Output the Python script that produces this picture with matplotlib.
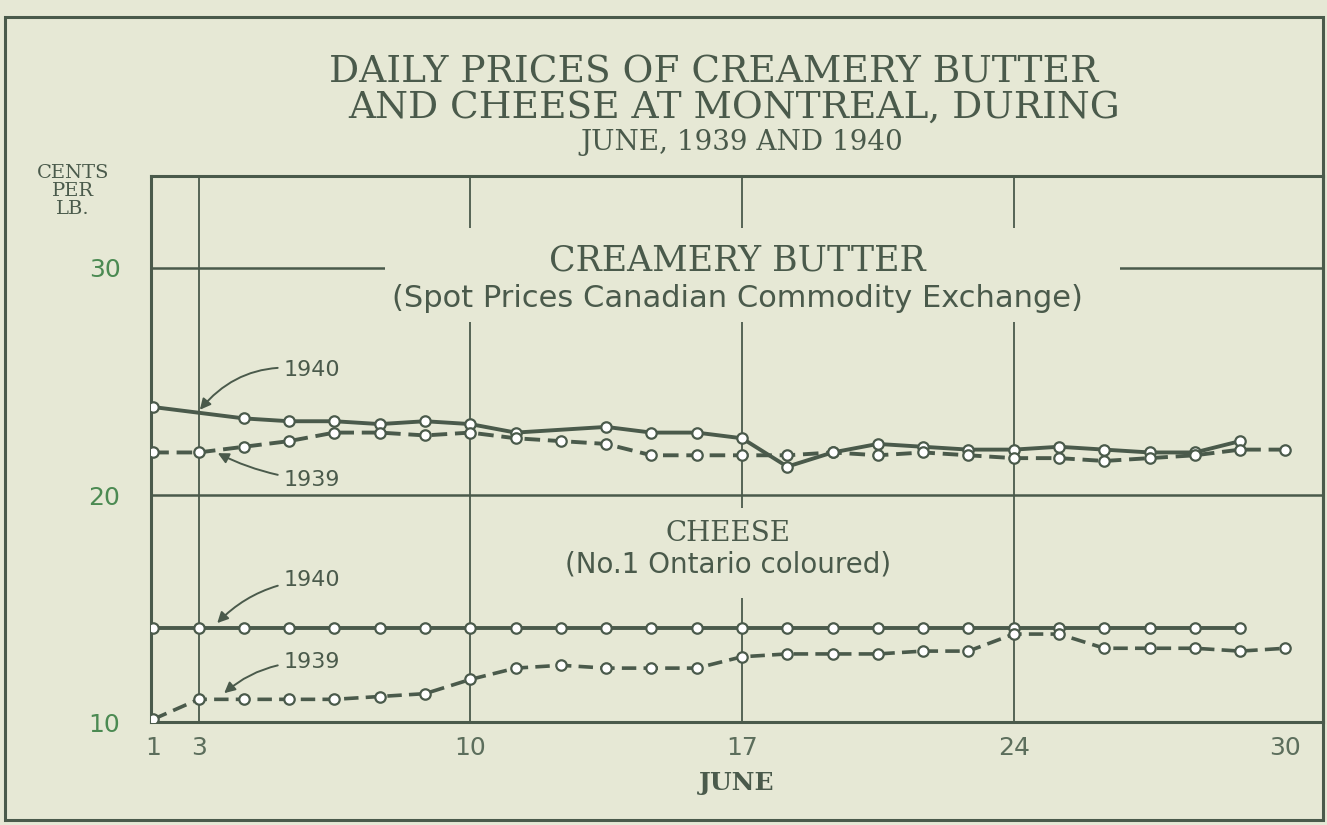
import matplotlib.pyplot as plt
import numpy as np
from matplotlib.patches import Rectangle

# trading days of June shown along the x axis (Sundays skipped)
days = [1, 3, 4, 5, 6, 7, 8, 10, 11, 12, 13, 14, 15, 17, 18, 19, 20, 21, 22,
        24, 25, 26, 27, 28, 29, 30]
tick_days = [1, 3, 10, 17, 24, 30]
grid_days = [3, 10, 17, 24]

# creamery butter, cents per lb.
butter_1940_days = [1, 4, 5, 6, 7, 8, 10, 11, 13, 14, 15, 17, 18, 19, 20, 21,
                    22, 24, 25, 26, 27, 28, 29]
butter_1940 = [23.875, 23.375, 23.25, 23.25, 23.125, 23.25, 23.125, 22.75,
               23.0, 22.75, 22.75, 22.5, 21.25, 21.875, 22.25, 22.125, 22.0,
               22.0, 22.125, 22.0, 21.875, 21.875, 22.375]
butter_1939_days = days
butter_1939 = [21.875, 21.875, 22.125, 22.375, 22.75, 22.75, 22.625, 22.75,
               22.5, 22.375, 22.25, 21.75, 21.75, 21.75, 21.75, 21.875, 21.75,
               21.875, 21.75, 21.625, 21.625, 21.5, 21.625, 21.75, 22.0, 22.0]

# cheese, No.1 Ontario coloured
cheese_1940_days = days[:-1]
cheese_1940 = [14.125] * 25
cheese_1939_days = days
cheese_1939 = [10.125, 11.0, 11.0, 11.0, 11.0, 11.125, 11.25, 11.875, 12.375,
               12.5, 12.375, 12.375, 12.375, 12.875, 13.0, 13.0, 13.0, 13.125,
               13.125, 13.875, 13.875, 13.25, 13.25, 13.25, 13.125, 13.25]


def pos(ds):
    return [days.index(d) for d in ds]


paper = '#e6e8d5'
ink = '#4a5a4b'
green = '#4b8a52'

fig = plt.figure(figsize=(13.27, 8.25), dpi=100, facecolor=paper)
ax = fig.add_axes([0.1138, 0.1248, 0.8832, 0.6618], facecolor=paper)
ax.set_xlim(-0.05, 25.83)
ax.set_ylim(10, 34.05)

# outer frame
fig.patches.append(Rectangle((0.004, 0.006), 0.993, 0.973, transform=fig.transFigure,
                             fill=False, edgecolor=ink, lw=2.2))

for y in [20, 30]:
    ax.axhline(y, color=ink, lw=1.8, zorder=1)
for d in grid_days:
    ax.axvline(days.index(d), color=ink, lw=1.3, zorder=1)

# paper masks where the section labels interrupt the grid
ax.add_patch(Rectangle((0.2, 0.733), 0.627, 0.172, transform=ax.transAxes,
                       facecolor=paper, edgecolor='none', zorder=2))
ax.add_patch(Rectangle((0.353, 0.227), 0.277, 0.165, transform=ax.transAxes,
                       facecolor=paper, edgecolor='none', zorder=2))

mk = dict(marker='o', ms=7.5, mfc='white', mec=ink, mew=1.6, color=ink, zorder=4)
ax.plot(pos(butter_1940_days), butter_1940, lw=2.8, **mk)
ax.plot(pos(butter_1939_days), butter_1939, lw=2.8, ls=(0, (4, 2)), **mk)
ax.plot(pos(cheese_1940_days), cheese_1940, lw=2.8, **mk)
ax.plot(pos(cheese_1939_days), cheese_1939, lw=2.6, ls=(0, (4, 2)), **mk)

lab = dict(fontsize=16, color=ink, family=['DejaVu Sans'], va='center', ha='left',
           zorder=5)
arr = dict(arrowstyle='-|>', color=ink, lw=1.4, mutation_scale=16)
ax.annotate('1940', xy=(0.99, 23.66), xytext=(2.87, 25.5),
            arrowprops=dict(connectionstyle='arc3,rad=0.3', **arr), **lab)
ax.annotate('1939', xy=(1.37, 21.9), xytext=(2.87, 20.66),
            arrowprops=dict(connectionstyle='arc3,rad=-0.1', **arr), **lab)
ax.annotate('1940', xy=(1.37, 14.27), xytext=(2.87, 16.26),
            arrowprops=dict(connectionstyle='arc3,rad=0.2', **arr), **lab)
ax.annotate('1939', xy=(1.52, 11.19), xytext=(2.87, 12.64),
            arrowprops=dict(connectionstyle='arc3,rad=0.2', **arr), **lab)

serif = ['DejaVu Serif']
hand = ['Liberation Sans Narrow', 'DejaVu Sans']
ax.text(0.5, 0.845, 'CREAMERY BUTTER', transform=ax.transAxes, ha='center',
        va='center', fontsize=25, family=serif, color=ink, zorder=3)
ax.text(0.5, 0.775, '(Spot Prices Canadian Commodity Exchange)', transform=ax.transAxes,
        ha='center', va='center', fontsize=22, family=hand, color=ink, zorder=3)
ax.text(0.492, 0.346, 'CHEESE', transform=ax.transAxes, ha='center', va='center',
        fontsize=20, family=serif, color=ink, zorder=3)
ax.text(0.492, 0.288, '(No.1 Ontario coloured)', transform=ax.transAxes, ha='center',
        va='center', fontsize=20, family=hand, color=ink, zorder=3)

ax.set_xticks(pos(tick_days))
ax.set_xticklabels([str(d) for d in tick_days], family=hand, fontsize=18, color='#5c6e5c')
ax.set_yticks([10, 20, 30])
ax.set_yticklabels(['10', '20', '30'], family=hand, fontsize=18, color=green)
ax.tick_params(length=0, pad=10)
ax.tick_params(axis='y', pad=22)
for s in ax.spines.values():
    s.set_color(ink)
    s.set_linewidth(2.2)

ax.set_xlabel('JUNE', family=serif, fontsize=18, fontweight='bold', color=ink, labelpad=8)

fig.text(0.538, 0.912, 'DAILY PRICES OF CREAMERY BUTTER', ha='center', va='center',
         fontsize=27, family=serif, color=ink)
fig.text(0.553, 0.869, 'AND CHEESE AT MONTREAL, DURING', ha='center', va='center',
         fontsize=27, family=serif, color=ink)
fig.text(0.559, 0.827, 'JUNE, 1939 AND 1940', ha='center', va='center',
         fontsize=20, family=serif, color=ink)
fig.text(0.055, 0.768, 'CENTS\nPER\nLB.', ha='center', va='center', fontsize=14,
         family=serif, color=ink, linespacing=1.0)

fig.savefig('out.png', dpi=100, facecolor=paper)
